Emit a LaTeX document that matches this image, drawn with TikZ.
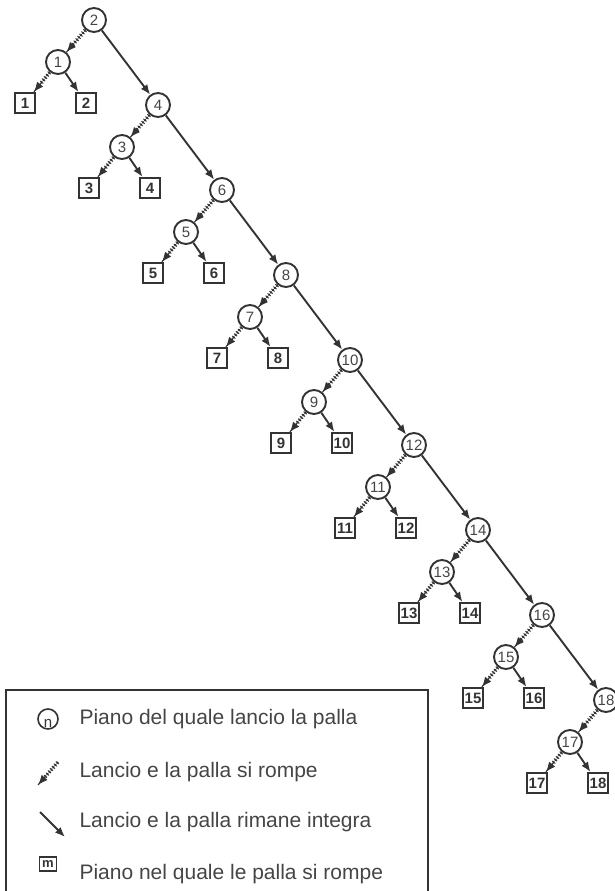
\documentclass[tikz,border=0pt]{standalone}
\usepackage{fontspec}
\setmainfont{Liberation Sans}
\usetikzlibrary{arrows.meta,decorations.pathreplacing,calc}
\definecolor{ln}{HTML}{333333}
\definecolor{tx}{HTML}{454545}
\begin{document}
\begin{tikzpicture}[x=1pt,y=-1pt,
  floor/.style={circle,draw=ln,line width=1.9pt,minimum size=24pt,inner sep=0pt,text=tx,font=\fontsize{15}{15}\selectfont},
  box/.style={rectangle,draw=ln,line width=2pt,minimum size=20pt,inner sep=0pt,text=ln,font=\bfseries\fontsize{15}{15}\selectfont},
  ok/.style={draw=ln,line width=1.9pt,-{Latex[length=10pt,width=8pt]}},
  broke/.style={draw=ln,line width=1.4pt,dash pattern=on 2pt off 1pt,-{Latex[length=10pt,width=8pt]},
    postaction={draw=ln,solid,line width=1pt,arrows=-,decorate,
      decoration={ticks,segment length=3pt,amplitude=2pt,pre length=1pt,post length=10pt}}},
  legtext/.style={anchor=west,text=tx,font=\fontsize{21}{21}\selectfont}
]
\useasboundingbox (0,0) rectangle (614,891);
% tree
\foreach \k in {0,...,8} {
  \pgfmathtruncatemacro\s{2*\k+2}
  \pgfmathtruncatemacro\o{2*\k+1}
  \node[floor] (S\k) at ({94+64*\k},{20+85*\k}) {\s};
  \node[floor] (L\k) at ({58+64*\k},{62+85*\k}) {\o};
  \node[box] (A\k) at ({25+64*\k},{103+85*\k}) {\o};
  \node[box] (B\k) at ({86+64*\k},{103+85*\k}) {\s};
  \draw[broke] (S\k) -- (L\k);
  \draw[broke] (L\k) -- (A\k);
  \draw[ok] (L\k) -- (B\k);
}
\foreach \k [count=\n from 1] in {0,...,7} {
  \draw[ok] (S\k) -- (S\n);
}
% legend
\draw[ln,line width=1.6pt] (6,891) -- (6,690) -- (428,690) -- (428,891);
\node[circle,draw=ln,line width=1.6pt,minimum size=20pt,inner sep=0pt] (lc) at (48,719) {};
\node[text=ln,font=\fontsize{15}{15}\selectfont,inner sep=0pt] (lcn) at (48,723) {n};
\coordinate (h1) at (58,762);
\coordinate (h2) at (38,785);
\draw[broke] (h1) -- (h2);
\coordinate (s1) at (40,812);
\coordinate (s2) at (65,837);
\draw[ok] (s1) -- (s2);
\node[rectangle,draw=ln,line width=1.6pt,minimum width=17pt,minimum height=14pt,inner sep=0pt,text=ln,font=\bfseries\fontsize{13}{13}\selectfont] (lm) at (48,864) {m};
\node[legtext] (t1) at (76,719) {Piano del quale lancio la palla};
\node[legtext] (t2) at (76,772) {Lancio e la palla si rompe};
\node[legtext] (t3) at (76,822) {Lancio e la palla rimane integra};
\node[legtext] (t4) at (76,874) {Piano nel quale le palla si rompe};
\end{tikzpicture}
\end{document}
